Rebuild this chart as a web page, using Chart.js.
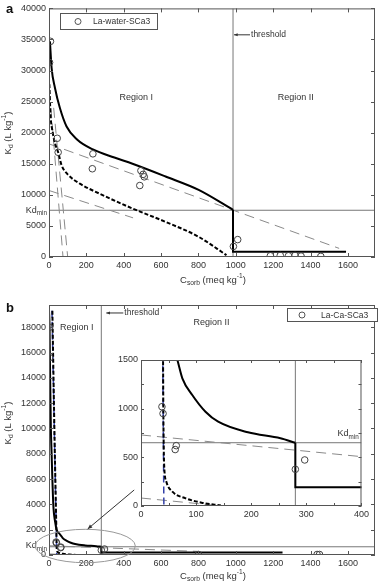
<!DOCTYPE html>
<html>
<head>
<meta charset="utf-8">
<script src="https://cdn.jsdelivr.net/npm/chart.js@4.4.0/dist/chart.umd.min.js"></script>
<style>
body { margin: 0; background: #fff; width: 380px; height: 587px; position: relative; overflow: hidden; }
canvas { position: absolute; }
#cA { left: 0; top: 0; }
#cB { left: 0; top: 290px; }
#cI { left: 106px; top: 350px; }
</style>
</head>
<body>
<canvas id="cA" width="380" height="290"></canvas>
<canvas id="cB" width="380" height="297"></canvas>
<canvas id="cI" width="266" height="174"></canvas>
<script>
var FONT = '"Liberation Sans", Arial, sans-serif';
var INK = '#333';

// ---- panel a : La-water-SCa3 ----
var aXTicks = [0, 200, 400, 600, 800, 1000, 1200, 1400, 1600];
var aYTicks = [0, 5000, 10000, 15000, 20000, 25000, 30000, 35000, 40000];
var aObsX = [8, 3, 44, 49, 235, 232, 492, 486, 510, 504, 987, 1010, 1185, 1238, 1282, 1317, 1349, 1455];
var aObsY = [34700, 31300, 19100, 16850, 16600, 14200, 13900, 11500, 12900, 13300, 1700, 2800, 200, 250, 200, 250, 150, 100];
var aUpX = [5, 14, 32, 58, 94, 150, 235, 350, 447, 624, 801, 985];
var aUpY = [34700, 30400, 27200, 24000, 21000, 18900, 17300, 16000, 15000, 12950, 10800, 7600];
var aStepX = [985, 985, 1590];
var aStepY = [7600, 850, 850];
var aLoX = [2, 8, 20, 35, 49, 67, 100, 165, 270, 447, 624, 801, 950];
var aLoY = [27800, 23000, 20000, 18000, 16850, 14800, 13300, 11800, 10200, 7800, 5650, 3250, 300];
var aFit1X = [0, 1553], aFit1Y = [18200, 1390];
var aFit2X = [0, 450], aFit2Y = [10700, 6300];
var aFit3X = [10, 75], aFit3Y = [24000, 0];
var aFit4X = [25, 100], aFit4Y = [24000, 0];
var aThreshold = 985;
var aKdMin = 7520;

// ---- panel b : La-Ca-SCa3 ----
var bXTicks = [0, 200, 400, 600, 800, 1000, 1200, 1400, 1600];
var bYTicks = [0, 2000, 4000, 6000, 8000, 10000, 12000, 14000, 16000, 18000];
var bObsX = [3, 3, 38, 40, 64, 62, 280, 297, 800, 1435, 1448];
var bObsY = [18000, 15600, 1020, 950, 620, 580, 377, 473, 40, 40, 40];
var bUpX = [0, 3, 6, 10, 14, 23, 33, 41, 55, 66, 75, 93, 117, 140, 194, 253, 280];
var bUpY = [19300, 18000, 14000, 10000, 8000, 4000, 2600, 2000, 1700, 1500, 1312, 1141, 969, 866, 757, 696, 650];
var bStepX = [280, 280, 1250];
var bStepY = [650, 192, 192];
var bLoX = [18, 30, 38, 40, 40.5, 41, 42, 46, 57, 81, 110, 145];
var bLoY = [19300, 9000, 3000, 1500, 1000, 700, 420, 250, 147, 79, 34, 5];
var bBlueX = [16, 41.5], bBlueY = [19300, 0];
var bFit1X = [0, 800], bFit1Y = [730, 284];
var bFit2X = [0, 147], bFit2Y = [82, 0];
var bThreshold = 280;
var bKdMin = 650;

// inset of panel b
var iXTicks = [0, 50, 100, 150, 200, 250, 300, 350, 400];
var iYTicks = [0, 250, 500, 750, 1000, 1250, 1500];

function pts(xs, ys) {
    return xs.map(function (x, i) { return { x: x, y: ys[i] }; });
}

function obs(xs, ys) {
    return { data: pts(xs, ys), showLine: false, pointRadius: 3.3, pointStyle: 'circle',
             pointBorderColor: '#444', pointBackgroundColor: 'rgba(0,0,0,0)', pointBorderWidth: 1 };
}
function curve(xs, ys, color, width, dash, smooth) {
    return { data: pts(xs, ys), showLine: true, pointRadius: 0, borderColor: color, borderWidth: width,
             borderDash: dash || [], cubicInterpolationMode: smooth ? 'monotone' : 'default', tension: 0 };
}

// sub/superscript text: parts = [[text, mode]], mode 0 normal, -1 sub, 1 sup
function rich(ctx, parts, x, y, size, align) {
    var w = 0;
    parts.forEach(function (p) {
        ctx.font = (p[1] ? size * 0.7 : size) + 'px ' + FONT;
        w += ctx.measureText(p[0]).width;
    });
    var cx = align == 'center' ? x - w / 2 : (align == 'right' ? x - w : x);
    ctx.textAlign = 'left';
    ctx.textBaseline = 'middle';
    parts.forEach(function (p) {
        var s = p[1] ? size * 0.7 : size;
        ctx.font = s + 'px ' + FONT;
        var dy = p[1] == -1 ? size * 0.35 : (p[1] == 1 ? -size * 0.4 : 0);
        ctx.fillText(p[0], cx, y + dy);
        cx += ctx.measureText(p[0]).width;
    });
}

var X_TITLE = [['C', 0], ['sorb', -1], [' (meq kg', 0], ['-1', 1], [')', 0]];
var Y_TITLE = [['K', 0], ['d', -1], [' (L kg', 0], ['-1', 1], [')', 0]];
var KDMIN = [['Kd', 0], ['min', -1]];

function arrow(ctx, x1, y1, x2, y2, head) {
    var ang = Math.atan2(y2 - y1, x2 - x1);
    ctx.beginPath();
    ctx.moveTo(x1, y1);
    ctx.lineTo(x2, y2);
    ctx.stroke();
    ctx.beginPath();
    ctx.moveTo(x2, y2);
    ctx.lineTo(x2 - head * Math.cos(ang - 0.4), y2 - head * Math.sin(ang - 0.4));
    ctx.lineTo(x2 - head * Math.cos(ang + 0.4), y2 - head * Math.sin(ang + 0.4));
    ctx.closePath();
    ctx.fill();
}

function legendBox(ctx, x, y, w, h, dotOff, textOff, label) {
    ctx.fillStyle = '#fff';
    ctx.fillRect(x, y, w, h);
    ctx.strokeStyle = '#555';
    ctx.lineWidth = 1;
    ctx.strokeRect(x + 0.5, y + 0.5, w, h);
    ctx.beginPath();
    ctx.arc(x + dotOff, y + h / 2 + 0.5, 3, 0, 2 * Math.PI);
    ctx.stroke();
    ctx.fillStyle = INK;
    ctx.font = '8.5px ' + FONT;
    ctx.textAlign = 'left';
    ctx.textBaseline = 'middle';
    ctx.fillText(label, x + textOff, y + h / 2 + 1);
}

// white plot area, box and inward tick marks
var frame = {
    id: 'frame',
    beforeDraw: function (chart) {
        var a = chart.chartArea, ctx = chart.ctx;
        ctx.save();
        ctx.fillStyle = '#fff';
        ctx.fillRect(a.left, a.top, a.right - a.left, a.bottom - a.top);
        ctx.restore();
    },
    afterDraw: function (chart, args, opts) {
        var a = chart.chartArea, ctx = chart.ctx, sx = chart.scales.x, sy = chart.scales.y;
        var len = opts.len || 4;
        ctx.save();
        ctx.strokeStyle = '#555';
        ctx.lineWidth = 1;
        ctx.strokeRect(a.left + 0.5, a.top + 0.5, a.right - a.left - 1, a.bottom - a.top - 1);
        ctx.beginPath();
        sx.ticks.forEach(function (t) {
            var p = Math.round(sx.getPixelForValue(t.value)) + 0.5;
            ctx.moveTo(p, a.bottom); ctx.lineTo(p, a.bottom - len);
            ctx.moveTo(p, a.top); ctx.lineTo(p, a.top + len);
        });
        sy.ticks.forEach(function (t) {
            var p = Math.round(sy.getPixelForValue(t.value)) + 0.5;
            ctx.moveTo(a.left, p); ctx.lineTo(a.left + len, p);
            ctx.moveTo(a.right, p); ctx.lineTo(a.right - len, p);
        });
        ctx.stroke();
        ctx.restore();
    }
};

function axes(xmin, xmax, xticks, ymin, ymax, yticks, xh, yw, size, labelEvery) {
    var tickFont = { size: size, family: FONT };
    return {
        x: { type: 'linear', min: xmin, max: xmax, grid: { display: false, drawTicks: false }, border: { display: false },
             ticks: { color: INK, font: tickFont, padding: 3, maxRotation: 0, autoSkip: false,
                      callback: function (v) { return labelEvery && v % labelEvery[0] ? '' : String(v); } },
             afterBuildTicks: function (s) { s.ticks = xticks.map(function (v) { return { value: v }; }); },
             afterFit: function (s) { s.height = xh; } },
        y: { type: 'linear', min: ymin, max: ymax, grid: { display: false, drawTicks: false }, border: { display: false },
             ticks: { color: INK, font: tickFont, padding: 3, autoSkip: false,
                      callback: function (v) { return labelEvery && v % labelEvery[1] ? '' : String(v); } },
             afterBuildTicks: function (s) { s.ticks = yticks.map(function (v) { return { value: v }; }); },
             afterFit: function (s) { s.width = yw; } }
    };
}

var base = {
    responsive: false, animation: false, devicePixelRatio: 1,
    plugins: { legend: { display: false }, tooltip: { enabled: false }, frame: { len: 4 } }
};
function opts(padding, scales, len) {
    var o = Object.assign({}, base);
    o.layout = { padding: padding };
    o.scales = scales;
    o.plugins = Object.assign({}, base.plugins, { frame: { len: len } });
    return o;
}

// ---- decorations for panel a ----
var decoA = {
    id: 'decoA',
    afterDraw: function (chart) {
        var ctx = chart.ctx, sx = chart.scales.x, sy = chart.scales.y, a = chart.chartArea;
        ctx.save();
        ctx.fillStyle = INK;
        ctx.strokeStyle = '#333';
        ctx.lineWidth = 1;
        ctx.font = '9px ' + FONT;
        ctx.textAlign = 'center';
        ctx.textBaseline = 'middle';
        ctx.fillText('Region I', sx.getPixelForValue(467), sy.getPixelForValue(25600));
        ctx.fillText('Region II', sx.getPixelForValue(1321), sy.getPixelForValue(25600));
        var ty = sy.getPixelForValue(35750), tx = sx.getPixelForValue(aThreshold);
        ctx.font = '8.5px ' + FONT;
        ctx.textAlign = 'left';
        ctx.fillText('threshold', tx + 18, ty);
        arrow(ctx, tx + 17, ty, tx + 1, ty, 4);
        rich(ctx, KDMIN, a.left - 2, sy.getPixelForValue(aKdMin), 9, 'right');
        rich(ctx, X_TITLE, 213, 280, 9.5, 'center');
        ctx.save();
        ctx.translate(8, 133);
        ctx.rotate(-Math.PI / 2);
        rich(ctx, Y_TITLE, 0, 0, 9.5, 'center');
        ctx.restore();
        legendBox(ctx, 60, 13, 97, 16, 18, 33, 'La-water-SCa3');
        ctx.fillStyle = '#111';
        ctx.font = 'bold 13px ' + FONT;
        ctx.textAlign = 'left';
        ctx.fillText('a', 6, 9);
        ctx.restore();
    }
};

new Chart(document.getElementById('cA'), {
    type: 'scatter',
    data: { datasets: [
        obs(aObsX, aObsY),
        curve(aUpX, aUpY, '#000', 2, null, true),
        curve(aStepX, aStepY, '#000', 2),
        curve(aLoX, aLoY, '#000', 2, [4, 2], true),
        curve(aFit1X, aFit1Y, '#8a8a8a', 1, [10, 6]),
        curve(aFit2X, aFit2Y, '#8a8a8a', 1, [10, 6]),
        curve(aFit3X, aFit3Y, '#8a8a8a', 1, [10, 6]),
        curve(aFit4X, aFit4Y, '#8a8a8a', 1, [10, 6]),
        curve([aThreshold, aThreshold], [0, 40000], '#777', 1),
        curve([0, 1745], [aKdMin, aKdMin], '#777', 1)
    ] },
    options: opts({ top: 7, right: 2, left: 0, bottom: 0 }, axes(0, 1745, aXTicks, 0, 40000, aYTicks, 33, 49, 9), 4),
    plugins: [frame, decoA]
});

// ---- decorations for panel b ----
var decoB = {
    id: 'decoB',
    afterDraw: function (chart) {
        var ctx = chart.ctx, sx = chart.scales.x, sy = chart.scales.y, a = chart.chartArea;
        ctx.save();
        ctx.fillStyle = INK;
        ctx.strokeStyle = '#333';
        ctx.lineWidth = 1;
        ctx.font = '9px ' + FONT;
        ctx.textAlign = 'center';
        ctx.textBaseline = 'middle';
        ctx.fillText('Region I', sx.getPixelForValue(149), sy.getPixelForValue(17950));
        ctx.fillText('Region II', sx.getPixelForValue(870), sy.getPixelForValue(18340));
        var ty = sy.getPixelForValue(19130), tx = sx.getPixelForValue(bThreshold);
        ctx.font = '8.5px ' + FONT;
        ctx.textAlign = 'left';
        ctx.fillText('threshold', tx + 23, ty);
        arrow(ctx, tx + 22, ty, tx + 5, ty, 4);
        rich(ctx, KDMIN, a.left - 2, sy.getPixelForValue(bKdMin) - 1, 9, 'right');
        // ellipse around the zoomed region and arrow to the inset
        ctx.strokeStyle = '#999';
        ctx.beginPath();
        ctx.ellipse(sx.getPixelForValue(194), sy.getPixelForValue(711),
                    sx.getPixelForValue(268) - sx.getPixelForValue(0),
                    sy.getPixelForValue(0) - sy.getPixelForValue(1320), 0, 0, 2 * Math.PI);
        ctx.stroke();
        ctx.strokeStyle = '#333';
        ctx.fillStyle = '#333';
        arrow(ctx, sx.getPixelForValue(456), sy.getPixelForValue(5140), sx.getPixelForValue(207), sy.getPixelForValue(2055), 5);
        ctx.fillStyle = INK;
        rich(ctx, X_TITLE, 213, 286, 9.5, 'center');
        ctx.save();
        ctx.translate(8, 133);
        ctx.rotate(-Math.PI / 2);
        rich(ctx, Y_TITLE, 0, 0, 9.5, 'center');
        ctx.restore();
        legendBox(ctx, 287, 18, 90, 13, 15, 34, 'La-Ca-SCa3');
        ctx.fillStyle = '#111';
        ctx.font = 'bold 13px ' + FONT;
        ctx.textAlign = 'left';
        ctx.fillText('b', 6, 18);
        ctx.restore();
    }
};

var bSets = function (xmax, ymax) {
    return [
        obs(bObsX, bObsY),
        curve(bUpX, bUpY, '#000', 2, null, true),
        curve(bStepX, bStepY, '#000', 2),
        curve(bLoX, bLoY, '#000', 2, [4, 2], true),
        curve(bBlueX, bBlueY, '#3340a8', 1.5, [7, 4]),
        curve(bFit1X, bFit1Y, '#8a8a8a', 1, [10, 6]),
        curve(bFit2X, bFit2Y, '#8a8a8a', 1, [10, 6]),
        curve([bThreshold, bThreshold], [0, ymax], '#777', 1),
        curve([0, xmax], [bKdMin, bKdMin], '#777', 1)
    ];
};

new Chart(document.getElementById('cB'), {
    type: 'scatter',
    data: { datasets: bSets(1745, 19760) },
    options: opts({ top: 15, right: 2, left: 0, bottom: 0 }, axes(0, 1745, bXTicks, 0, 19760, bYTicks, 32, 49, 9), 4),
    plugins: [frame, decoB]
});

// ---- inset ----
var decoI = {
    id: 'decoI',
    afterDraw: function (chart) {
        var ctx = chart.ctx, sx = chart.scales.x, sy = chart.scales.y;
        ctx.save();
        ctx.fillStyle = INK;
        rich(ctx, KDMIN, sx.getPixelForValue(395), sy.getPixelForValue(bKdMin) - 9, 9, 'right');
        ctx.restore();
    }
};

new Chart(document.getElementById('cI'), {
    type: 'scatter',
    data: { datasets: bSets(400, 1500) },
    options: opts({ top: 10, right: 6, left: 0, bottom: 0 }, axes(0, 400, iXTicks, 0, 1500, iYTicks, 18, 35, 9, [100, 500]), 3),
    plugins: [frame, decoI]
});
</script>
</body>
</html>
